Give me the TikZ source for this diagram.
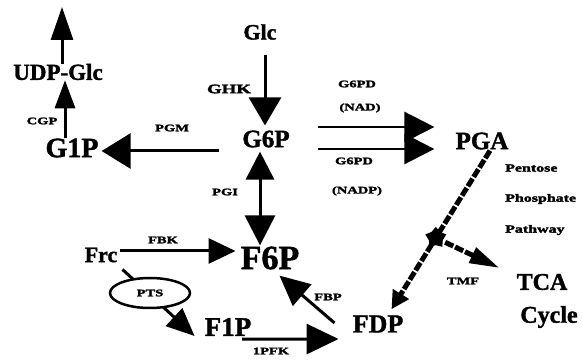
\documentclass[tikz,border=0pt]{standalone}
\usepackage{fontspec}
\setmainfont{Liberation Serif}[BoldFeatures={FakeBold=1.5}]
\newfontfamily\lblfont{Liberation Serif}[FakeStretch=1.45, BoldFeatures={FakeBold=2.5}]
\usetikzlibrary{arrows.meta,shapes.geometric,calc}

\tikzset{
  metab/.style={font=\bfseries\fontsize{#1}{#1}\selectfont, inner sep=0pt},
  enz/.style={font=\lblfont\bfseries\fontsize{#1}{#1}\selectfont, inner sep=0pt},
  enz/.default=10,
  flux/.style={line width=3pt},
  headed/.style 2 args={-{Triangle[length=#1,width=#2]}},
  ppline/.style={line width=5pt, dash pattern=on 9pt off 2pt},
}

\begin{document}
\begin{tikzpicture}[x=1pt, y=-1pt]
\useasboundingbox (0,0) rectangle (582,363);

% metabolites
\node[metab=23] (UDP)   at (58,72)   {UDP-Glc};
\node[metab=28] (G1P)   at (72,148)  {G1P};
\node[metab=22] (Glc)   at (260,32)  {Glc};
\node[metab=25] (G6P)   at (266,139) {G6P};
\node[metab=25] (PGA)   at (482,141) {PGA};
\node[metab=34] (F6P)   at (270,258) {F6P};
\node[metab=22] (Frc)   at (101,255) {Frc};
\node[metab=27] (F1P)   at (228,327) {F1P};
\node[metab=26] (FDP)   at (378,324) {FDP};
\node[metab=24] (TCA)   at (542,282) {TCA};
\node[metab=24] (Cycle) at (549,317) {Cycle};

% UDP-Glc onwards
\coordinate (udptip) at (62,7);
\draw[flux, headed={33pt}{22pt}] (UDP.north -| udptip) -- (udptip);
\draw[flux, headed={28pt}{20pt}] ([xshift=-7pt]G1P.north) -- ([xshift=7pt]UDP.south);

% PGM
\draw[flux, headed={29pt}{35pt}] ($(G6P.west)+(-23,12)$) -- ($(G1P.east)+(3,3)$);
% GHK
\draw[flux, headed={28pt}{32pt}] ($(Glc.south)+(5,15)$) -- ($(G6P.north)+(-1,-5)$);
% G6PD (two cofactors)
\draw[line width=2.5pt, headed={30pt}{30pt}] ($(G6P.east)+(28,-12)$) -- ($(PGA.west)+(-21,-14)$);
\draw[line width=2.5pt, headed={30pt}{30pt}] ($(G6P.east)+(28,10)$) -- ($(PGA.west)+(-21,8)$);
% PGI (reversible)
\draw[flux, {Triangle[length=28pt,width=28pt]}-{Triangle[length=30pt,width=30pt]}]
  ($(G6P.south)+(-6,4)$) -- ($(F6P.north)+(-10,-1)$);
% FBK
\draw[flux, headed={27pt}{25pt}] ($(Frc.east)+(3,-4)$) -- ($(F6P.west)+(-5,-7)$);
% PTS uptake
\draw[flux, headed={28pt}{24pt}] ($(Frc.south east)+(5,7)$) -- ($(F1P.west)+(-10,9)$);
\node[ellipse, draw, line width=2.5pt, fill=white, minimum width=80pt, minimum height=30pt,
      enz] (PTS) at (150,293) {PTS};
% FBP
\draw[flux, headed={30pt}{28pt}] ($(FDP.west)+(-18,-1)$) -- ($(F6P.south east)+(-20,6)$);
% 1PFK
\draw[flux, headed={32pt}{30pt}] ($(F1P.south)+(14,3)$) -- ($(FDP.west)+(-14,15)$);

% lower glycolysis and branch to the TCA cycle
\draw[ppline, headed={18pt}{18pt}] ($(PGA.south)+(8,1)$)
  -- node[pos=0.55, star, star points=5, fill=black, inner sep=0pt, minimum size=22pt] (hub) {}
  ($(FDP.north east)+(-12,-6)$);
\draw[ppline, headed={30pt}{16pt}] (hub) -- ($(TCA.west)+(-17,-14)$);

% enzyme labels
\node[enz] (cgp)   at (42,121)  {CGP};
\node[enz] (pgm)   at (172,128) {PGM};
\node[enz=13] (ghk) at (229,89) {GHK};
\node[enz] (g6pda) at (357,84)  {G6PD};
\node[enz] (nad)   at (360,108) {(NAD)};
\node[enz] (g6pdb) at (354,161) {G6PD};
\node[enz] (nadp)  at (357,191) {(NADP)};
\node[enz] (pgi)   at (225,192) {PGI};
\node[enz] (fbk)   at (163,240) {FBK};
\node[enz] (fbp)   at (328,297) {FBP};
\node[enz] (pfk)   at (271,351) {1PFK};
\node[enz] (tmf)   at (463,281) {TMF};
\node[enz=11, anchor=west] (pent) at (505,168) {Pentose};
\node[enz=11, anchor=west] (phos) at (505,199) {Phosphate};
\node[enz=11, anchor=west] (pwy)  at (505,230) {Pathway};
\end{tikzpicture}
\end{document}
